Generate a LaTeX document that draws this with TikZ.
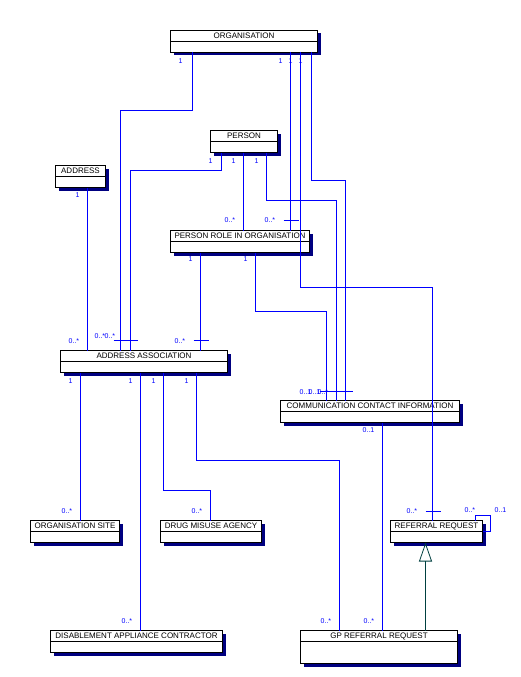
\documentclass[tikz,border=0pt]{standalone}
\usepackage{fontspec}
\setmainfont{Liberation Sans}
\usetikzlibrary{arrows.meta,shadows}

\definecolor{relblue}{RGB}{0,0,255}
\definecolor{shadenavy}{RGB}{0,0,128}
\definecolor{genteal}{RGB}{0,64,64}

\begin{document}
\begin{tikzpicture}[x=1pt,y=-1pt,
  ent/.style={draw,line width=0.8pt,fill=white,anchor=north west,inner sep=0pt,outer sep=0pt,
    font=\fontsize{8}{9}\selectfont,text height=8.4pt,text depth=13.6pt,
    general shadow={fill=shadenavy,shadow xshift=3pt,shadow yshift=-3pt},
    path picture={\draw[line width=0.8pt] ([yshift=-11pt]path picture bounding box.north west)
      -- ([yshift=-11pt]path picture bounding box.north east);}},
  rel/.style={relblue,line width=0.8pt},
  idbar/.style={relblue,line width=0.8pt},
  gen/.style={genteal,line width=0.8pt,-{Triangle[open,length=19pt,width=13pt]}},
  card/.style={relblue,font=\fontsize{7}{8}\selectfont,anchor=base west,inner sep=0pt}]
\useasboundingbox (-0.5,-0.5) rectangle (520.5,676.5);
% classes
\node[ent,minimum width=147] (org) at (170,30) {ORGANISATION};
\node[ent,minimum width=67] (per) at (210,130) {PERSON};
\node[ent,minimum width=50] (adr) at (55,165) {ADDRESS};
\node[ent,minimum width=139] (pro) at (170,230) {PERSON ROLE IN ORGANISATION};
\node[ent,minimum width=167] (aa) at (60,350) {ADDRESS ASSOCIATION};
\node[ent,minimum width=179] (cci) at (280,400) {COMMUNICATION CONTACT INFORMATION};
\node[ent,minimum width=89] (site) at (30,520) {ORGANISATION SITE};
\node[ent,minimum width=101] (dma) at (160,520) {DRUG MISUSE AGENCY};
\node[ent,minimum width=92] (rr) at (390,520) {REFERRAL REQUEST};
\node[ent,minimum width=172] (dac) at (50,630) {DISABLEMENT APPLIANCE CONTRACTOR};
\node[ent,minimum width=157,text depth=24.6pt] (gp) at (300,630) {GP REFERRAL REQUEST};
% associations
\draw[rel] ([xshift=22]org.south west) -- ++(0,58) -| ([xshift=60]aa.north west);
\draw[rel] ([xshift=120]org.south west) -- ([xshift=120]pro.north west);
\draw[rel] ([xshift=130]org.south west) -- ++(0,235) -| ([xshift=42]rr.north west);
\draw[rel] ([xshift=141]org.south west) -- ++(0,128) -| ([xshift=65]cci.north west);
\draw[rel] ([xshift=11]per.south west) -- ++(0,18) -| ([xshift=70]aa.north west);
\draw[rel] ([xshift=33]per.south west) -- ([xshift=73]pro.north west);
\draw[rel] ([xshift=56]per.south west) -- ++(0,48) -| ([xshift=56]cci.north west);
\draw[rel] ([xshift=32]adr.south west) -- ([xshift=27]aa.north west);
\draw[rel] ([xshift=30]pro.south west) -- ([xshift=140]aa.north west);
\draw[rel] ([xshift=85]pro.south west) -- ++(0,59) -| ([xshift=46]cci.north west);
\draw[rel] ([xshift=20]aa.south west) -- ([xshift=50]site.north west);
\draw[rel] ([xshift=80]aa.south west) -- ([xshift=90]dac.north west);
\draw[rel] ([xshift=103]aa.south west) -- ++(0,118) -| ([xshift=50]dma.north west);
\draw[rel] ([xshift=136]aa.south west) -- ++(0,88) -| ([xshift=39]gp.north west);
\draw[rel] ([xshift=102]cci.south west) -- ([xshift=82]gp.north west);
\draw[rel] ([xshift=85]rr.north west) -- ++(0,-5) -- ++(15,0) |- (rr.east);
% bars at the many ends
\draw[idbar] ([xshift=53]aa.north west) ++(0,-10) -- ++(24,0);
\draw[idbar] ([xshift=133]aa.north west) ++(0,-10) -- ++(15,0);
\draw[idbar] ([xshift=113]pro.north west) ++(0,-10) -- ++(15,0);
\draw[idbar] ([xshift=39]cci.north west) ++(0,-9) -- ++(33,0);
\draw[idbar] ([xshift=35]rr.north west) ++(0,-9) -- ++(15,0);
% generalisation
\draw[gen] ([xshift=125]gp.north west) -- ([xshift=35]rr.south west);
% multiplicities
\node[card] (o1) at (178,63) {1};
\node[card] (o2) at (278,63) {1};
\node[card] (o3) at (288,63) {1};
\node[card] (o4) at (298,63) {1};
\node[card] (p1) at (208,163) {1};
\node[card] (p2) at (231,163) {1};
\node[card] (p3) at (254,163) {1};
\node[card] (d1) at (75,197) {1};
\node[card] (r1) at (188,261) {1};
\node[card] (r2) at (243,261) {1};
\node[card] (a1) at (68,383) {1};
\node[card] (a2) at (128,383) {1};
\node[card] (a3) at (151,383) {1};
\node[card] (a4) at (184,383) {1};
\node[card] (c1) at (362,432) {0..1};
\node[card] (aa1) at (94,338) {0..*};
\node[card] (aa2) at (104,338) {0..*};
\node[card] (aa3) at (68,343) {0..*};
\node[card] (aa4) at (174,343) {0..*};
\node[card] (pr1) at (224,222) {0..*};
\node[card] (pr2) at (264,222) {0..*};
\node[card] (cc1) at (299,394) {0..1};
\node[card] (cc2) at (308,394) {0..1};
\node[card] (cc3) at (317,394) {0..*};
\node[card] (rq1) at (406,513) {0..*};
\node[card] (rq2) at (464,512) {0..*};
\node[card] (rq3) at (494,512) {0..1};
\node[card] (s1) at (61,513) {0..*};
\node[card] (m1) at (191,513) {0..*};
\node[card] (da1) at (121,623) {0..*};
\node[card] (g1) at (320,623) {0..*};
\node[card] (g2) at (363,623) {0..*};
\end{tikzpicture}
\end{document}
